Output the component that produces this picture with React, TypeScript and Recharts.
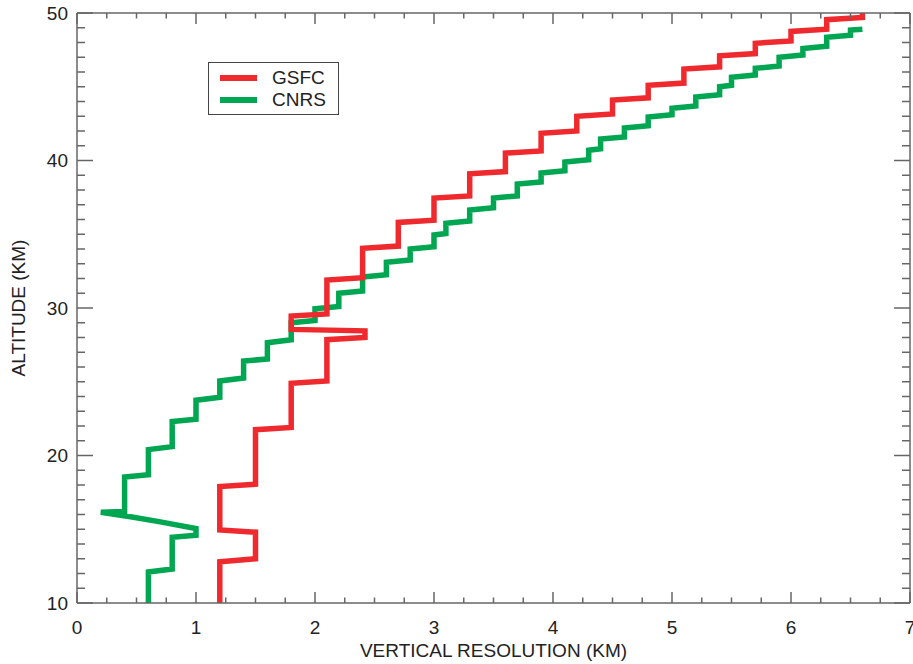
import * as React from 'react';
import { LineChart, Line, XAxis, YAxis, Legend } from 'recharts';

// vertical resolution (km) vs altitude (km)
const gsfcRes = [
  1.2, 1.2, 1.5, 1.5, 1.2, 1.2, 1.5, 1.5, 1.8, 1.8, 2.1, 2.1, 2.42, 2.42, 1.8, 1.8,
  2.1, 2.1, 2.4, 2.4, 2.7, 2.7, 3.0, 3.0, 3.3, 3.3, 3.6, 3.6, 3.9, 3.9, 4.2, 4.2,
  4.5, 4.5, 4.8, 4.8, 5.1, 5.1, 5.4, 5.4, 5.7, 5.7, 6.0, 6.0, 6.3, 6.3, 6.6, 6.6,
];
const gsfcAlt = [
  10, 12.8, 13.0, 14.8, 14.95, 17.9, 18.05, 21.75, 21.9, 24.9, 25.05, 27.85, 28.0, 28.45, 28.55, 29.45,
  29.6, 31.9, 32.05, 34.05, 34.2, 35.8, 35.95, 37.45, 37.6, 39.1, 39.25, 40.5, 40.65, 41.85, 42.0, 43.0,
  43.15, 44.1, 44.25, 45.1, 45.25, 46.2, 46.35, 47.1, 47.25, 47.95, 48.1, 48.75, 48.9, 49.55, 49.7, 50,
];

const cnrsRes = [
  0.6, 0.6, 0.8, 0.8, 1.0, 1.0, 0.7, 0.45, 0.2, 0.4, 0.4, 0.6, 0.6, 0.8, 0.8,
  1.0, 1.0, 1.2, 1.2, 1.4, 1.4, 1.6, 1.6, 1.8, 1.8, 2.0, 2.0, 2.2, 2.2, 2.4,
  2.4, 2.6, 2.6, 2.8, 2.8, 3.0, 3.0, 3.1, 3.1, 3.3, 3.3, 3.5, 3.5, 3.7, 3.7,
  3.9, 3.9, 4.1, 4.1, 4.3, 4.3, 4.4, 4.4, 4.6, 4.6, 4.8, 4.8, 5.0, 5.0, 5.2,
  5.2, 5.4, 5.4, 5.5, 5.5, 5.7, 5.7, 5.9, 5.9, 6.1, 6.1, 6.3, 6.3, 6.5, 6.5, 6.6,
];
const cnrsAlt = [
  10, 12.1, 12.3, 14.45, 14.6, 15.05, 15.5, 15.85, 16.15, 16.2, 18.55, 18.7, 20.4, 20.6, 22.3,
  22.45, 23.75, 23.95, 25.05, 25.25, 26.4, 26.55, 27.65, 27.85, 29.0, 29.15, 29.95, 30.1, 31.0, 31.15,
  32.1, 32.25, 33.1, 33.25, 34.0, 34.15, 34.95, 35.05, 35.75, 35.9, 36.65, 36.8, 37.45, 37.6, 38.4,
  38.55, 39.15, 39.3, 39.9, 40.05, 40.7, 40.8, 41.45, 41.6, 42.2, 42.35, 42.95, 43.1, 43.55, 43.7,
  44.3, 44.45, 45.0, 45.1, 45.65, 45.8, 46.25, 46.4, 47.0, 47.15, 47.6, 47.75, 48.35, 48.5, 48.85, 48.9,
];

// minor ticks every 0.25 km (x) and 1 km (y); labelled ones are whole km / tens
const xTicks = Array.from({ length: 29 }, (_, i) => i * 0.25);
const yTicks = Array.from({ length: 41 }, (_, i) => 10 + i);

const SERIES = [
  { name: 'GSFC', color: '#ee2a2e' },
  { name: 'CNRS', color: '#00a651' },
];

const FONT = '"Liberation Sans", Arial, Helvetica, sans-serif';
const AXIS = '#666';
const TXT = { fontSize: 19, fill: '#222', fontFamily: FONT };

const gsfc = gsfcRes.map((res, i) => ({ res, alt: gsfcAlt[i] }));
const cnrs = cnrsRes.map((res, i) => ({ res, alt: cnrsAlt[i] }));

const isXMajor = (v: number) => Number.isInteger(v);
const isYMajor = (v: number) => v % 10 === 0;

// inward tick marks drawn from the axis line, labels only on major ticks
function BottomTick(props: any) {
  const { x, y, payload } = props;
  const major = isXMajor(payload.value);
  return (
    <g>
      <line x1={x} y1={y} x2={x} y2={y - (major ? 11 : 5.5)} stroke={AXIS} strokeWidth={1.5} />
      {major && (
        <text x={x} y={y + 31} textAnchor="middle" {...TXT}>
          {payload.value}
        </text>
      )}
    </g>
  );
}

function TopTick(props: any) {
  const { x, y, payload } = props;
  const major = isXMajor(payload.value);
  return <line x1={x} y1={y} x2={x} y2={y + (major ? 11 : 5.5)} stroke={AXIS} strokeWidth={1.5} />;
}

function LeftTick(props: any) {
  const { x, y, payload } = props;
  const major = isYMajor(payload.value);
  return (
    <g>
      <line x1={x} y1={y} x2={x + (major ? 16 : 8)} y2={y} stroke={AXIS} strokeWidth={1.5} />
      {major && (
        <text x={x - 9} y={y} dy="0.36em" textAnchor="end" {...TXT}>
          {payload.value}
        </text>
      )}
    </g>
  );
}

function RightTick(props: any) {
  const { x, y, payload } = props;
  const major = isYMajor(payload.value);
  return <line x1={x} y1={y} x2={x - (major ? 16 : 8)} y2={y} stroke={AXIS} strokeWidth={1.5} />;
}

function LegendBox() {
  return (
    <div
      style={{
        width: 131,
        height: 53,
        border: '1px solid #444',
        background: '#fff',
        boxSizing: 'border-box',
        fontFamily: FONT,
        fontSize: 19,
        color: '#222',
        paddingTop: 4,
      }}
    >
      {SERIES.map((s) => (
        <div key={s.name} style={{ display: 'flex', alignItems: 'center', height: 22 }}>
          <span style={{ marginLeft: 11, width: 37, height: 5.5, background: s.color }} />
          <span style={{ marginLeft: 15, lineHeight: '22px' }}>{s.name}</span>
        </div>
      ))}
    </div>
  );
}

const axisLine = { stroke: AXIS, strokeWidth: 1.5 };

export default function App() {
  return (
    <div style={{ position: 'absolute', left: 0, top: 0, background: '#fff' }}>
      <LineChart width={913} height={664} margin={{ top: 12, right: 2, bottom: 0, left: 0 }}>
        <XAxis
          xAxisId="b"
          dataKey="res"
          type="number"
          domain={[0, 7]}
          allowDataOverflow
          ticks={xTicks}
          interval={0}
          height={61}
          axisLine={axisLine}
          tickLine={false}
          tickSize={0}
          tickMargin={0}
          tick={<BottomTick />}
          label={{
            value: 'VERTICAL RESOLUTION (KM)',
            position: 'insideBottom',
            offset: 7,
            style: TXT,
          }}
        />
        <XAxis
          xAxisId="t"
          orientation="top"
          dataKey="res"
          type="number"
          domain={[0, 7]}
          allowDataOverflow
          ticks={xTicks}
          interval={0}
          height={1}
          axisLine={axisLine}
          tickLine={false}
          tickSize={0}
          tickMargin={0}
          tick={<TopTick />}
        />
        <YAxis
          yAxisId="l"
          dataKey="alt"
          type="number"
          domain={[10, 50]}
          allowDataOverflow
          ticks={yTicks}
          interval={0}
          width={77}
          axisLine={axisLine}
          tickLine={false}
          tickSize={0}
          tickMargin={0}
          tick={<LeftTick />}
          label={{
            value: 'ALTITUDE (KM)',
            angle: -90,
            position: 'insideLeft',
            offset: 18,
            style: { ...TXT, textAnchor: 'middle' },
          }}
        />
        <YAxis
          yAxisId="r"
          orientation="right"
          dataKey="alt"
          type="number"
          domain={[10, 50]}
          allowDataOverflow
          ticks={yTicks}
          interval={0}
          width={1}
          axisLine={axisLine}
          tickLine={false}
          tickSize={0}
          tickMargin={0}
          tick={<RightTick />}
        />
        <Legend
          layout="vertical"
          align="center"
          verticalAlign="middle"
          wrapperStyle={{ left: 208, top: 62, width: 'auto' }}
          content={() => <LegendBox />}
        />
        <Line
          xAxisId="b"
          yAxisId="l"
          data={cnrs}
          dataKey="alt"
          name="CNRS"
          type="linear"
          stroke={SERIES[1].color}
          strokeWidth={5.5}
          dot={false}
          activeDot={false}
          isAnimationActive={false}
        />
        <Line
          xAxisId="b"
          yAxisId="l"
          data={gsfc}
          dataKey="alt"
          name="GSFC"
          type="linear"
          stroke={SERIES[0].color}
          strokeWidth={5.5}
          dot={false}
          activeDot={false}
          isAnimationActive={false}
        />
      </LineChart>
    </div>
  );
}
